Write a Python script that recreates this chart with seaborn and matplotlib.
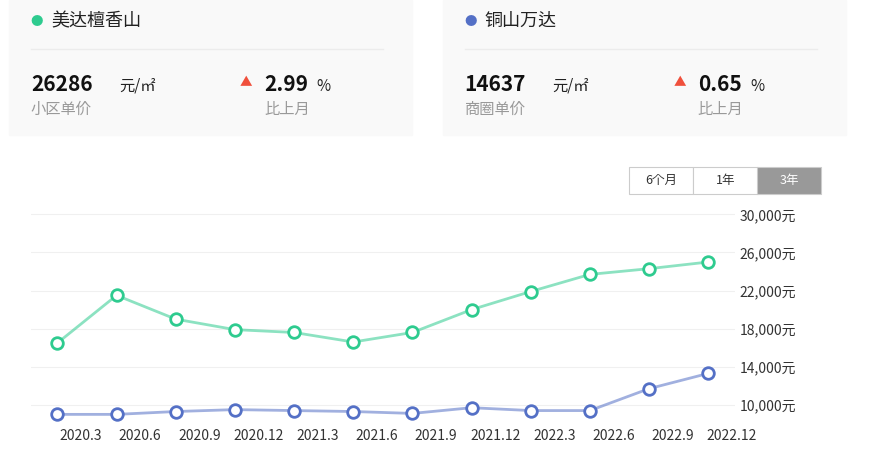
import matplotlib.pyplot as plt
import seaborn as sns
import pandas as pd
from matplotlib.patches import Rectangle

plt.rcParams["font.family"] = ["Noto Sans CJK SC", "Noto Sans CJK JP", "Noto Sans CJK TC", "DejaVu Sans"]

months = ["2020.3", "2020.6", "2020.9", "2020.12", "2021.3", "2021.6",
          "2021.9", "2021.12", "2022.3", "2022.6", "2022.9", "2022.12"]
meida = [16500, 21500, 19000, 17900, 17600, 16600, 17600, 20000, 21900, 23700, 24300, 25000]
tongshan = [9000, 9000, 9300, 9500, 9400, 9300, 9100, 9700, 9400, 9400, 11700, 13300]
yticks = [10000, 14000, 18000, 22000, 26000, 30000]

green = "#2ecb8f"
blue = "#5470c6"

fig = plt.figure(figsize=(8.8, 4.71), dpi=100)

# top cards
for x0, name, col, price, unit, label, pct in [
        (0.01, "美达檀香山", green, "26286", "元/㎡", "小区单价", "2.99"),
        (0.503, "铜山万达", blue, "14637", "元/㎡", "商圈单价", "0.65")]:
    fig.patches.append(Rectangle((x0, 0.713), 0.458, 0.287, transform=fig.transFigure,
                                 color="#f9f9f9", zorder=0))
    fig.text(x0 + 0.025, 0.955, "●", color=col, fontsize=9, va="center")
    fig.text(x0 + 0.048, 0.955, name, fontsize=13, va="center", color="#222")
    fig.add_artist(plt.Line2D([x0 + 0.025, x0 + 0.425], [0.895, 0.895],
                              transform=fig.transFigure, color="#ececec", lw=1))
    fig.text(x0 + 0.025, 0.82, price, fontsize=15, fontweight="bold", va="center", color="#111")
    fig.text(x0 + 0.125, 0.817, unit, fontsize=11, va="center", color="#222")
    fig.text(x0 + 0.025, 0.768, label, fontsize=11, va="center", color="#999")
    fig.text(x0 + 0.262, 0.825, "▲", fontsize=9, va="center", color="#f0503c")
    fig.text(x0 + 0.29, 0.82, pct, fontsize=15, fontweight="bold", va="center", color="#111")
    fig.text(x0 + 0.35, 0.817, "%", fontsize=11, va="center", color="#222")
    fig.text(x0 + 0.29, 0.768, "比上月", fontsize=11, va="center", color="#999")

# range buttons
for bx, txt, active in [(0.715, "6个月", False), (0.788, "1年", False), (0.86, "3年", True)]:
    fig.patches.append(Rectangle((bx, 0.588), 0.073, 0.058, transform=fig.transFigure,
                                 facecolor="#999" if active else "white",
                                 edgecolor="#ccc", lw=0.8))
    fig.text(bx + 0.0365, 0.617, txt, ha="center", va="center", fontsize=9,
             color="white" if active else "#333")

ax = fig.add_axes([0.035, 0.1, 0.8, 0.465])
x = list(range(len(months)))
for vals, col in [(meida, green), (tongshan, blue)]:
    d = pd.DataFrame({"x": x, "price": vals})
    sns.lineplot(data=d, x="x", y="price", color=col, ax=ax, lw=2, alpha=0.55)
    sns.scatterplot(data=d, x="x", y="price", color="white", edgecolor=col, ax=ax,
                    s=70, linewidth=2, zorder=3)

ax.set_xlim(-0.45, 11.45)
ax.set_ylim(8000, 31000)
ax.set_xticks([i + 0.4 for i in x])
ax.set_xticklabels(months)
ax.set_yticks(yticks)
ax.set_yticklabels([f"{v:,}元" for v in yticks])
ax.yaxis.tick_right()
ax.tick_params(length=0, labelsize=10, colors="#333")
ax.grid(axis="y", color="#f0f0f0")
ax.set_xlabel("")
ax.set_ylabel("")
for s in ax.spines.values():
    s.set_visible(False)

fig.savefig("out.png", dpi=100)
